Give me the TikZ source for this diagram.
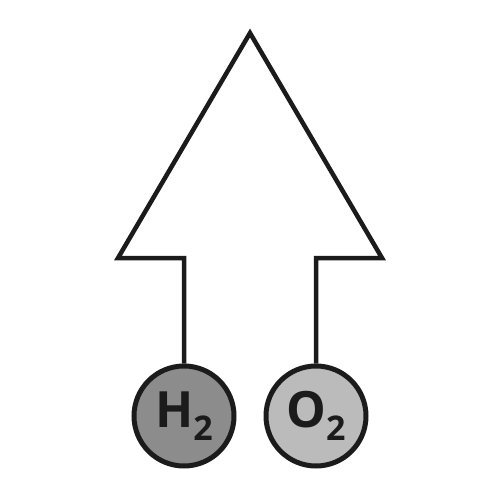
\documentclass[tikz,border=0pt]{standalone}
\usepackage{fontspec}
\setsansfont{Open Sans}
\usepackage{tikz}
\usetikzlibrary{positioning}

\definecolor{outline}{HTML}{1B1B1B}
\definecolor{hydrogen}{HTML}{8C8C8C}
\definecolor{oxygen}{HTML}{BBBBBB}

\begin{document}
\begin{tikzpicture}[x=1pt, y=-1pt,
      gas/.style={circle, draw=outline, line width=5pt, minimum size=100pt, inner sep=0pt,
                  font=\sffamily\bfseries\fontsize{50}{50}\selectfont, text=outline},
      line/.style={draw=outline, line width=4.5pt, line join=miter}
    ]
    \useasboundingbox (0,0) rectangle (500,500);

    \node [gas, fill=hydrogen] (h2) at (184,416) {H\raisebox{-0.26em}{\fontsize{34}{34}\selectfont 2}};
    \node [gas, fill=oxygen] (o2) at (316,416) {O\raisebox{-0.26em}{\fontsize{34}{34}\selectfont 2}};

    \coordinate (tip) at (250,33);
    \coordinate (lwing) at (118,258);
    \coordinate (rwing) at (382,258);
    \coordinate (lneck) at (h2.north |- lwing);
    \coordinate (rneck) at (o2.north |- rwing);

    \path [line] (h2.north) -- (lneck) -- (lwing) -- (tip) -- (rwing) -- (rneck) -- (o2.north);

\end{tikzpicture}
\end{document}
